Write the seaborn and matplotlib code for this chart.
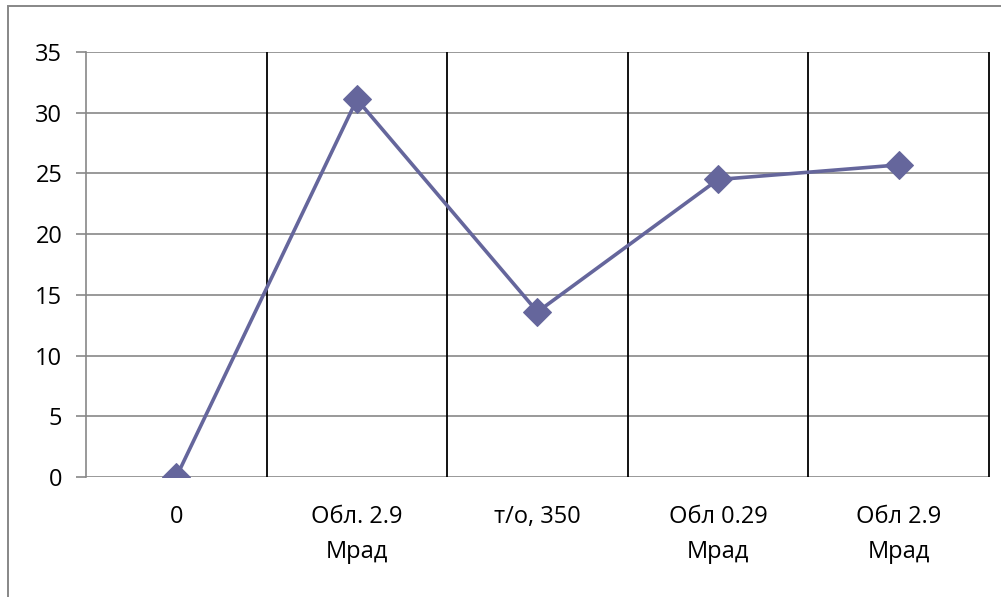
import numpy as np
import pandas as pd
import matplotlib
matplotlib.use("Agg")
import matplotlib.pyplot as plt
from matplotlib.patches import Rectangle
import seaborn as sns

# Sample treatments and measured values
categories = ["0", "Обл. 2.9\nМрад", "т/о, 350", "Обл 0.29\nМрад", "Обл 2.9\nМрад"]
values = [0.0, 31.1, 13.6, 24.5, 25.7]
y_ticks = [0, 5, 10, 15, 20, 25, 30, 35]

sns.set_theme(style="white")
plt.rcParams["font.family"] = ["Open Sans", "DejaVu Sans"]

line_color = "#65669c"
grid_color = "#878787"
label_size = 17

fig = plt.figure(figsize=(10.01, 5.97), dpi=100)
ax = fig.add_axes([0.0859, 0.201, 0.9021, 0.7119])

df = pd.DataFrame({"pos": np.arange(len(categories)), "value": values})
sns.lineplot(data=df, x="pos", y="value", ax=ax, color=line_color,
             linewidth=2.6, marker="D", markersize=14,
             markeredgecolor=line_color, markerfacecolor=line_color,
             zorder=5)

ax.set_xlim(-0.5, len(categories) - 0.5)
ax.set_ylim(y_ticks[0], y_ticks[-1])

# Horizontal value gridlines
for yv in y_ticks:
    ax.axhline(yv, color=grid_color, linewidth=1.2, zorder=1)

# Black separators between categories
bounds = np.arange(len(categories)) + 0.5
ax.vlines(bounds, y_ticks[0], y_ticks[-1], colors="black", linewidth=1.3,
          zorder=2, clip_on=False)

ax.set_xticks(np.arange(len(categories)))
ax.set_xticklabels(categories, fontsize=label_size, linespacing=1.62,
                   color="black")
ax.set_yticks(y_ticks)
ax.set_yticklabels([str(v) for v in y_ticks], fontsize=label_size,
                   color="black")
ax.tick_params(axis="x", length=0, pad=20)
ax.tick_params(axis="y", length=7, width=1.2, color=grid_color, pad=10,
               left=True)
ax.set_xlabel("")
ax.set_ylabel("")

for side in ["top", "right", "bottom"]:
    ax.spines[side].set_visible(False)
ax.spines["left"].set_color(grid_color)
ax.spines["left"].set_linewidth(1.2)

# Outer chart-area frame
frame = Rectangle((8 / 1001, -0.2), 1.2, 0.2 + 1 - 6 / 597,
                  transform=fig.transFigure, fill=False,
                  edgecolor=grid_color, linewidth=1.4, clip_on=False)
fig.patches.append(frame)

fig.savefig("out.png", dpi=100)
